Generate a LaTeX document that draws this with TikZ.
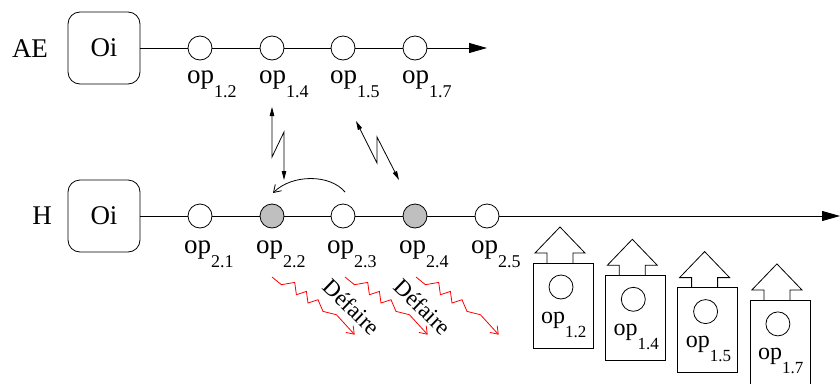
\documentclass[tikz,border=0pt]{standalone}
\usepackage{fontspec}
\setmainfont{Liberation Serif}
\usetikzlibrary{arrows.meta,calc}
\newcommand\opl[1]{{\fontsize{27}{27}\selectfont op}\raisebox{-14pt}{\fontsize{18}{18}\selectfont #1}}
\newcommand\opls[1]{{\fontsize{24}{24}\selectfont op}\raisebox{-14pt}{\fontsize{17}{17}\selectfont #1}}
\begin{document}
\begin{tikzpicture}[x=1pt,y=-1pt,
  line/.style={line width=0.8pt},
  oibox/.style={draw,line,rounded corners=12pt,minimum width=72pt,minimum height=72pt,inner sep=0pt,font=\fontsize{27}{27}\selectfont},
  opc/.style={draw,line,circle,minimum size=24pt,inner sep=0pt,fill=white},
  opg/.style={opc,fill=black!25},
  rowlbl/.style={font=\fontsize{27}{27}\selectfont,inner sep=0pt},
  oplabel/.style={anchor=base west,inner sep=0pt},
  mainarrow/.style={line,-{Triangle[length=18pt,width=10pt]}},
  bolt/.style={line,{Triangle[length=9pt,width=4.5pt]}-{Triangle[length=9pt,width=4.5pt]}},
  undoarrow/.style={red,line width=0.8pt,-{Straight Barb[length=7pt,width=10pt]}},
  defaire/.style={rotate=-44,font=\fontsize{23}{23}\selectfont,inner sep=0pt},
  opbox/.style={draw,line,minimum width=60pt,minimum height=85pt,inner sep=0pt,fill=white},
  undo/.pic={\draw[undoarrow] (0,0) -- (9.4,7.7) -- (22.7,5.4) -- (24.4,17.7) -- (34.4,14.4) -- (36,26) -- (46,22.7) -- (51,34.4) -- (64.4,37.7) -- (82.7,57.7);}
]
\useasboundingbox (0,0) rectangle (840,383);

% ---- AE row
\node[rowlbl] (ae) at (30,49) {AE};
\node[oibox] (oiA) at (104,48) {Oi};
\node[opc] (a1) at (200,48) {};
\node[opc] (a2) at (272,48) {};
\node[opc] (a3) at (343,48) {};
\node[opc] (a4) at (415,48) {};
\coordinate (aend) at (487,48);
\draw[line] (oiA) -- (a1);
\draw[line] (a1) -- (a2);
\draw[line] (a2) -- (a3);
\draw[line] (a3) -- (a4);
\draw[mainarrow] (a4) -- (aend);
\node[oplabel] (la1) at (187,83) {\opl{1.2}};
\node[oplabel] (la2) at (259,83) {\opl{1.4}};
\node[oplabel] (la3) at (330,83) {\opl{1.5}};
\node[oplabel] (la4) at (402,83) {\opl{1.7}};

% ---- H row
\node[rowlbl] (h) at (42,216) {H};
\node[oibox] (oiH) at (104,216) {Oi};
\node[opc] (b1) at (200,216) {};
\node[opg] (b2) at (272,216) {};
\node[opc] (b3) at (343,216) {};
\node[opg] (b4) at (415,216) {};
\node[opc] (b5) at (487,216) {};
\coordinate (hend) at (840,216);
\draw[line] (oiH) -- (b1);
\draw[line] (b1) -- (b2);
\draw[line] (b2) -- (b3);
\draw[line] (b3) -- (b4);
\draw[line] (b4) -- (b5);
\draw[mainarrow] (b5) -- (hend);
\node[oplabel] (lb1) at (184,253) {\opl{2.1}};
\node[oplabel] (lb2) at (256,253) {\opl{2.2}};
\node[oplabel] (lb3) at (327,253) {\opl{2.3}};
\node[oplabel] (lb4) at (399,253) {\opl{2.4}};
\node[oplabel] (lb5) at (471,253) {\opl{2.5}};

% ---- exchange bolts
\coordinate (z1s) at (272,107);
\coordinate (z1e) at (284,180);
\draw[bolt] (z1s) -- (272,157) -- (284,132) -- (z1e);
\coordinate (z2s) at (356,121);
\coordinate (z2e) at (399,180);
\draw[bolt] (z2s) -- (377,163) -- (377,137) -- (z2e);

% ---- curved arrow
\coordinate (cs) at (345,192);
\coordinate (ce) at (273,193);
\draw[line,-{Straight Barb[length=7pt,width=9pt]}] (cs) .. controls (330,174) and (292,174) .. (ce);

% ---- undo arrows
\pic at (272,277) {undo};
\pic at (345,277) {undo};
\pic at (416,277) {undo};
\node[defaire] (d1) at (352,307) {Défaire};
\node[defaire] (d2) at (423,307) {Défaire};

% ---- op boxes
\foreach \i/\lab in {0/1.2,1/1.4,2/1.5,3/1.7}{
  \pgfmathsetmacro{\xo}{533+72.3*\i}
  \pgfmathsetmacro{\yt}{263+12.3*\i}
  \pgfmathsetmacro{\cx}{\xo+27}
  \draw[line,fill=white] (\cx-13,\yt) -- (\cx-13,\yt-10) -- (\cx-25,\yt-10) -- (\cx,\yt-36) -- (\cx+25,\yt-10) -- (\cx+13,\yt-10) -- (\cx+13,\yt);
  \node[opbox] (box\i) at (\xo+30,\yt+42.5) {};
  \node[opc] (bc\i) at (\xo+28,\yt+24) {};
  \node[oplabel] (bl\i) at (\xo+8,\yt+60) {\opls{\lab}};
}
\end{tikzpicture}
\end{document}
